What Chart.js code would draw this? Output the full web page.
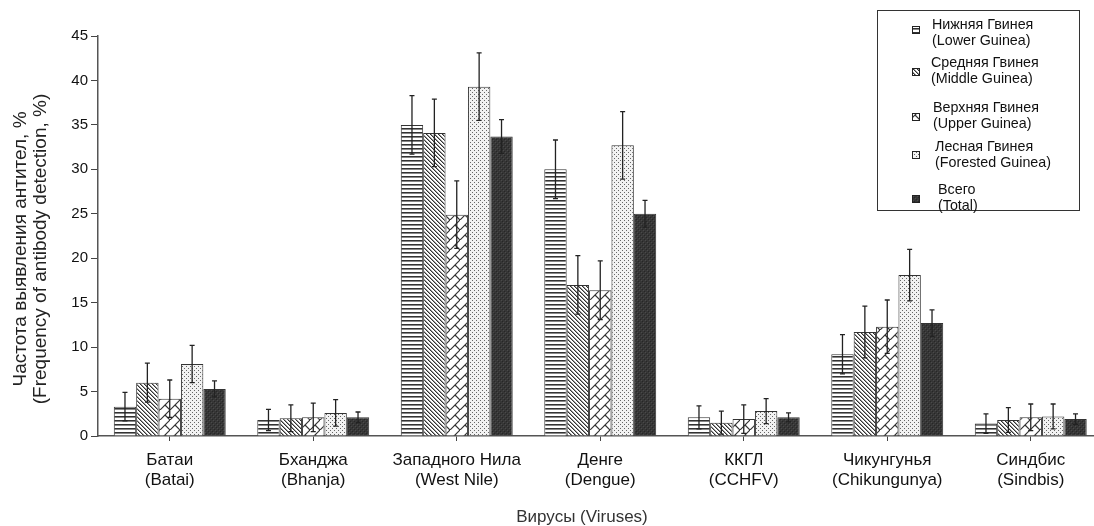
<!DOCTYPE html>
<html>
<head>
<meta charset="utf-8">
<script src="https://cdn.jsdelivr.net/npm/chart.js@4.4.1/dist/chart.umd.min.js"></script>
<style>
html,body{margin:0;padding:0;background:#fff;overflow:hidden;}
#wrap{position:relative;width:1110px;height:526px;}
</style>
</head>
<body>
<div id="wrap"><canvas id="c"></canvas></div>
<script>
const categories = [["Батаи","(Batai)"],["Бханджа","(Bhanja)"],["Западного Нила","(West Nile)"],["Денге","(Dengue)"],["ККГЛ","(CCHFV)"],["Чикунгунья","(Chikungunya)"],["Синдбис","(Sindbis)"]];
const seriesNames = [["Нижняя Гвинея","(Lower Guinea)"],["Средняя Гвинея","(Middle Guinea)"],["Верхняя Гвинея","(Upper Guinea)"],["Лесная Гвинея","(Forested Guinea)"],["Всего","(Total)"]];
const xTitle = "Вирусы (Viruses)";
const yTitle = ["Частота выявления антител, %","(Frequency of antibody detection, %)"];
const lower    = [3.3, 1.8, 35.0, 30.0, 2.1, 9.2, 1.4];
const middle   = [6.0, 2.0, 34.1, 17.0, 1.5, 11.7, 1.8];
const upper    = [4.2, 2.1, 24.9, 16.4, 1.9, 12.3, 2.1];
const forested = [8.1, 2.6, 39.3, 32.7, 2.8, 18.1, 2.2];
const total    = [5.3, 2.1, 33.7, 25.0, 2.1, 12.7, 1.9];
const lowerErr    = [1.6, 1.2, 3.3, 3.3, 1.3, 2.2, 1.1];
const middleErr   = [2.2, 1.5, 3.8, 3.3, 1.3, 2.9, 1.4];
const upperErr    = [2.1, 1.6, 3.8, 3.3, 1.6, 3.0, 1.5];
const forestedErr = [2.1, 1.5, 3.8, 3.8, 1.4, 2.9, 1.4];
const totalErr    = [0.9, 0.6, 1.9, 1.5, 0.5, 1.5, 0.6];
const yTicks = [0,5,10,15,20,25,30,35,40,45];

const FONT='"Liberation Sans", Arial, sans-serif';
function makePattern(w,h,draw){
  const c=document.createElement('canvas');c.width=w;c.height=h;
  const x=c.getContext('2d');draw(x,w,h);
  return document.getElementById('c').getContext('2d').createPattern(c,'repeat');
}
const pLower = makePattern(4,4,(x)=>{x.fillStyle='#fff';x.fillRect(0,0,4,4);x.fillStyle='#333';x.fillRect(0,0,4,1);x.fillStyle='#888';x.fillRect(0,1,4,1);});
const pMiddle = makePattern(4,4,(x)=>{x.fillStyle='#fff';x.fillRect(0,0,4,4);for(let i=0;i<4;i++){x.fillStyle='#333';x.fillRect(i,i,1,1);x.fillStyle='#999';x.fillRect((i+1)%4,i,1,1);}});
const pUpper = makePattern(10,10,(x)=>{x.fillStyle='#fff';x.fillRect(0,0,10,10);x.strokeStyle='#333';x.lineWidth=1.2;
  x.beginPath();x.moveTo(-1,11);x.lineTo(11,-1);x.stroke();
  x.beginPath();x.moveTo(5,5);x.lineTo(10,10);x.stroke();});
const pForest = makePattern(4,4,(x)=>{x.fillStyle='#f2f2f2';x.fillRect(0,0,4,4);x.fillStyle='#666';x.fillRect(0,0,1,1);x.fillRect(2,2,1,1);});
const pTotal = makePattern(4,4,(x)=>{x.fillStyle='#363636';x.fillRect(0,0,4,4);x.fillStyle='#4a4a4a';x.fillRect(1,0,1,1);x.fillRect(3,2,1,1);x.fillStyle='#262626';x.fillRect(0,3,1,1);x.fillRect(2,1,1,1);});
const patterns=[pLower,pMiddle,pUpper,pForest,pTotal];
const values=[lower,middle,upper,forested,total];
const errs=[lowerErr,middleErr,upperErr,forestedErr,totalErr];

const errorBars = {
  id:'errorBars',
  afterDatasetsDraw(chart){
    const ctx=chart.ctx, ys=chart.scales.y;
    ctx.save();ctx.strokeStyle='#222';ctx.lineWidth=1.3;
    chart.data.datasets.forEach((ds,i)=>{
      const meta=chart.getDatasetMeta(i);
      meta.data.forEach((el,j)=>{
        const v=ds.data[j], e=errs[i][j];
        const yt=ys.getPixelForValue(v+e), yb=ys.getPixelForValue(v-e);
        ctx.beginPath();
        ctx.moveTo(el.x,yt);ctx.lineTo(el.x,yb);
        ctx.moveTo(el.x-2.5,yt);ctx.lineTo(el.x+2.5,yt);
        ctx.moveTo(el.x-2.5,yb);ctx.lineTo(el.x+2.5,yb);
        ctx.stroke();
      });
    });
    ctx.restore();
  }
};
const titles = {
  id:'titles',
  afterDraw(chart){
    const ctx=chart.ctx;
    ctx.save();
    ctx.textAlign='center';ctx.textBaseline='middle';
    ctx.fillStyle='#333';ctx.font='17px '+FONT;
    ctx.fillText(xTitle,582,517);
    ctx.translate(21,249);ctx.rotate(-Math.PI/2);
    ctx.fillStyle='#222';ctx.font='19px '+FONT;
    ctx.fillText(yTitle[0],0,0);
    ctx.fillText(yTitle[1],0,19.3);
    ctx.restore();
  }
};
const boxLegend = {
  id:'boxLegend',
  afterDraw(chart){
    const ctx=chart.ctx;
    ctx.save();
    ctx.strokeStyle='#333';ctx.lineWidth=1;ctx.fillStyle='#fff';
    ctx.fillRect(877.5,10.5,202,200);ctx.strokeRect(877.5,10.5,202,200);
    ctx.font='14.3px '+FONT;ctx.textBaseline='middle';ctx.textAlign='left';
    const lines=[25,63,108,147,190];
    const sw=[30,72,117,155,199];
    const tx=[932,931,933,935,938];
    chart.data.datasets.forEach((ds,i)=>{
      const y=lines[i];
      ctx.fillStyle=patterns[i];ctx.fillRect(912,sw[i]-4,8,8);
      ctx.strokeStyle='#222';ctx.strokeRect(912.5,sw[i]-3.5,7,7);
      ctx.fillStyle='#111';
      ctx.fillText(seriesNames[i][0],tx[i],y);
      ctx.fillText(seriesNames[i][1],tx[i],y+15.7);
    });
    ctx.restore();
  }
};

new Chart(document.getElementById('c'),{
  type:'bar',
  data:{labels:categories,datasets:values.map((v,i)=>({label:seriesNames[i].join(' '),data:v,backgroundColor:patterns[i],borderColor:'#333',borderWidth:1,categoryPercentage:0.78,barPercentage:1}))},
  options:{
    responsive:true,maintainAspectRatio:false,animation:false,
    layout:{padding:{top:36,right:7.5,left:0,bottom:0}},
    plugins:{legend:{display:false},tooltip:{enabled:false}},
    scales:{
      x:{
        grid:{display:true,drawOnChartArea:false,offset:false,tickLength:5,color:'#444',tickColor:'#444'},
        border:{display:true,color:'#555',width:1.5},
        ticks:{color:'#111',padding:9,font:{family:FONT,size:17,lineHeight:1.18},maxRotation:0,autoSkip:false},
        title:{display:false},
        afterFit(s){s.height=90;}
      },
      y:{
        min:0,max:45,
        afterBuildTicks(s){s.ticks=yTicks.map(v=>({value:v}));},
        grid:{display:true,drawOnChartArea:false,tickLength:7,color:'#444',tickColor:'#444'},
        border:{display:true,color:'#555',width:1.5},
        ticks:{color:'#111',padding:3,font:{family:FONT,size:15}},
        title:{display:false},
        afterFit(s){s.width=98;}
      }
    }
  },
  plugins:[errorBars,titles,boxLegend]
});
</script>
</body>
</html>
